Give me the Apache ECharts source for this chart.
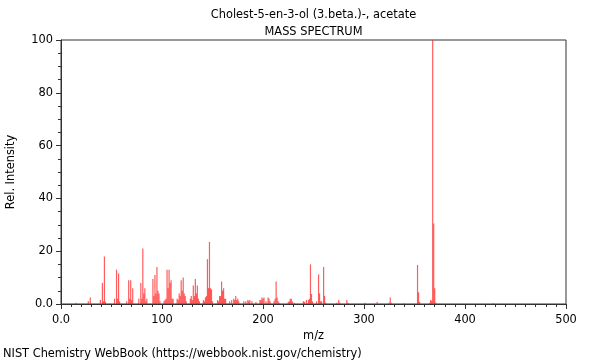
<!DOCTYPE html>
<html>
<head>
<meta charset="utf-8">
<script src="https://cdn.jsdelivr.net/npm/echarts@6/dist/echarts.min.js"></script>
<style>
html,body{margin:0;padding:0;background:#fff;}
#chart{width:600px;height:360px;}
</style>
</head>
<body>
<div id="chart"></div>
<script>
const titleText = "Cholest-5-en-3-ol (3.beta.)-, acetate";
const subTitleText = "MASS SPECTRUM";
const footerText = "NIST Chemistry WebBook (https://webbook.nist.gov/chemistry)";
const xAxisName = "m/z";
const yAxisName = "Rel. Intensity";

const mzValues = [15,27,29,39,41,42,43,44,53,55,56,57,58,65,67,68,69,70,71,77,79,80,81,82,83,84,85,
  91,92,93,94,95,96,97,98,102,103,104,105,106,107,108,109,110,111,115,116,117,118,119,120,121,122,123,124,
  128,129,130,131,132,133,134,135,136,137,141,142,143,144,145,146,147,148,149,150,155,156,157,158,159,160,
  161,162,163,167,169,171,172,173,174,175,176,181,183,185,186,187,189,193,197,198,199,200,201,203,205,206,
  207,211,212,213,214,215,216,225,226,227,228,229,231,240,241,243,245,246,247,248,249,253,255,256,257,258,
  260,261,262,273,275,276,283,284,301,313,325,326,327,340,353,354,355,365,366,367,368,369,370,371,428];
const intensities = [0.5,1,2.5,1.5,8,1,18,0.8,2,13,2,11.5,1,1,9,2,9,1.5,6,2,8,2,21,4,6,1,2,
  9.5,3,11,4,14,5,4,1,1,1.5,2,13,6,13,8,9,2,2,2,1.5,4,3,9,5,10,4,3,1,
  2,3,1.5,7,3,9.5,4,7,2,1,1.5,1,2.5,3,17,6,23.5,6,5.5,1,1.5,1,3,3,8.5,5,
  6,2,2,1,1.5,2,1.5,3,1.5,2,1,1,1,1.5,1,1.5,1,0.8,1.5,1.5,2.5,2,2.5,1,2.5,2,
  1,1,2,8.5,2.5,1,0.5,0.8,1,2,2,1,0.5,1,0.8,1.5,1.5,2,15,3.8,1,1,11.2,4,1,1,
  14,3,0.5,0.5,1.5,0.5,1.5,0.5,0.5,0.8,0.5,2.5,0.5,0.3,14.8,4.4,0.8,0.5,1.5,1.2,100,30.5,6,0.6,0.3];
const xTicks = [0,100,200,300,400,500];
const yTicks = [0,20,40,60,80,100];

const chart = echarts.init(document.getElementById('chart'), null, {renderer:'canvas'});
const FONT = 'DejaVu Sans';
const FS = 11.4;
const option = {
  animation:false,
  backgroundColor:'#fff',
  textStyle:{fontFamily:FONT},
  grid:{left:61,right:34,top:40,bottom:56,containLabel:false,outerBoundsMode:'none',show:true,borderColor:'#333',borderWidth:1,backgroundColor:'transparent'},
  graphic:[
    {type:'text',x:313.5,y:10,style:{text:titleText,font:FS+'px '+FONT,fill:'#000',textAlign:'center'}},
    {type:'text',x:313.5,y:27,style:{text:subTitleText,font:FS+'px '+FONT,fill:'#000',textAlign:'center'}},
    {type:'text',x:3,y:349,style:{text:footerText,font:FS+'px '+FONT,fill:'#000'}}
  ],
  xAxis:{type:'value',min:xTicks[0],max:xTicks[xTicks.length-1],interval:100,
    name:xAxisName,nameLocation:'middle',nameGap:24,nameTextStyle:{fontSize:FS,color:'#000',fontFamily:FONT},
    axisLine:{lineStyle:{color:'#333'}},
    axisTick:{show:true,length:5,lineStyle:{color:'#333'}},
    minorTick:{show:true,splitNumber:10,length:3,lineStyle:{color:'#333'}},
    splitLine:{show:false},
    axisLabel:{fontSize:FS,color:'#000',margin:11,formatter:v=>v===0?'0.0':String(v)}},
  yAxis:{type:'value',min:yTicks[0],max:yTicks[yTicks.length-1],interval:20,
    name:yAxisName,nameLocation:'middle',nameGap:44,nameRotate:90,nameTextStyle:{fontSize:FS,color:'#000',fontFamily:FONT},
    axisLine:{show:true,lineStyle:{color:'#333'}},
    axisTick:{show:true,length:5,lineStyle:{color:'#333'}},
    minorTick:{show:true,splitNumber:4,length:3,lineStyle:{color:'#333'}},
    splitLine:{show:false},
    axisLabel:{fontSize:FS,color:'#000',margin:8,formatter:v=>v===0?'0.0':String(v)}},
  series:[{type:'bar',barWidth:1.2,barGap:'-100%',
    itemStyle:{color:'rgba(255,30,30,0.72)'},
    data:mzValues.map((m,i)=>[m,intensities[i]])}]
};
chart.setOption(option);
</script>
</body>
</html>
